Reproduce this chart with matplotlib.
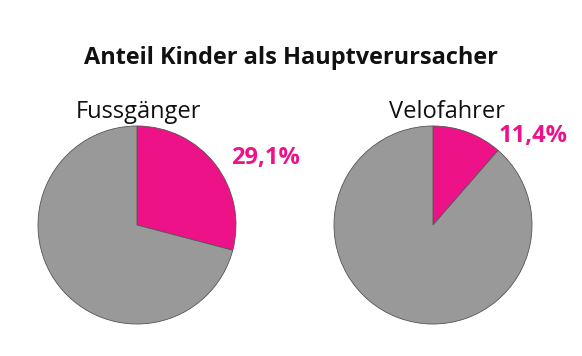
import matplotlib
matplotlib.use("Agg")
import matplotlib.pyplot as plt

title = "Anteil Kinder als Hauptverursacher"
groups = ["Fussgänger", "Velofahrer"]
child_share = [29.1, 11.4]
labels = ["29,1%", "11,4%"]

PINK = "#EE1289"
GRAY = "#999999"
W, H = 582, 356
fig = plt.figure(figsize=(W / 100, H / 100), dpi=100)
FONT = "Open Sans"

def fx(px):
    return px / W

def fy(py):
    return 1 - py / H

centers = [(137, 225), (433, 225)]
R = 100
sub_x = [138, 447]
lab_pos = [(265, 164), (533, 142)]

for i, (cx, cy) in enumerate(centers):
    ax = fig.add_axes([fx(cx - R), fy(cy + R), R * 2 / W, R * 2 / H])
    v = child_share[i]
    ax.pie([v, 100 - v], colors=[PINK, GRAY], startangle=90, counterclock=False,
           radius=1, wedgeprops=dict(edgecolor="#555555", linewidth=0.6))
    ax.set_xlim(-1.01, 1.01)
    ax.set_ylim(-1.01, 1.01)
    ax.set_aspect("equal")
    ax.axis("off")
    fig.text(fx(sub_x[i]), fy(118.5), groups[i], ha="center", va="baseline",
             fontsize=17, family=FONT, color="#111111")
    lx, ly = lab_pos[i]
    fig.text(fx(lx), fy(ly), labels[i], ha="center", va="baseline",
             fontsize=17, family=FONT, fontweight="bold", color=PINK)

fig.text(fx(291), fy(64.5), title, ha="center", va="baseline", fontsize=16.9,
         family=FONT, fontweight="bold", color="#111111")

fig.savefig("out.png", dpi=100, facecolor="white")
